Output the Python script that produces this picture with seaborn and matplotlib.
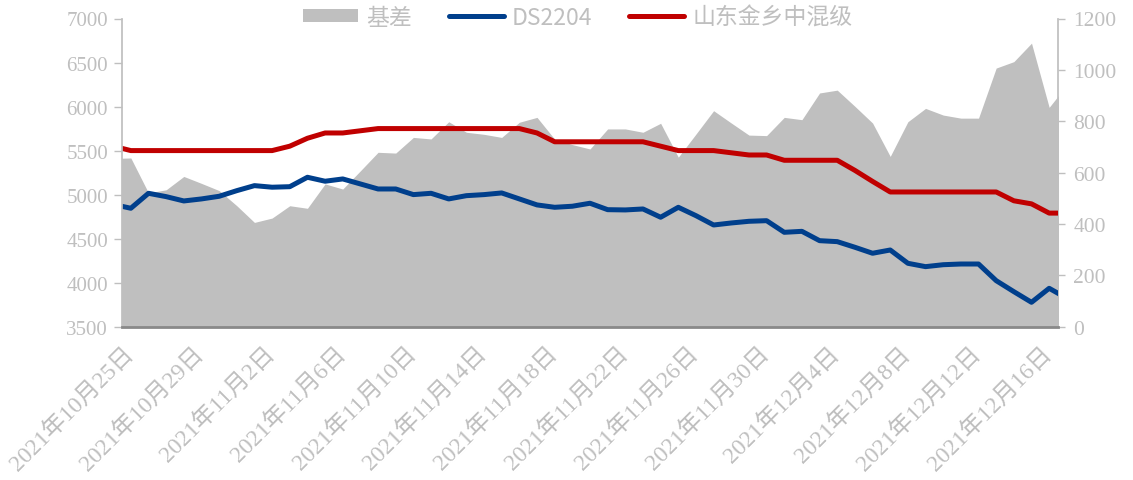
import pandas as pd
import matplotlib
matplotlib.use("Agg")
import matplotlib.pyplot as plt
from matplotlib.patches import Patch
from matplotlib.lines import Line2D
import seaborn as sns

# daily points, one day beyond each end (clipped by the axis like in the source chart)
dates = pd.date_range("2021-10-24", "2021-12-17", freq="D")

ds2204 = [4889, 4845, 5015, 4977, 4928, 4951, 4981, 5045, 5102, 5084,
          5090, 5197, 5152, 5178, 5121, 5064, 5064, 5000, 5015, 4951,
          4988, 5000, 5019, 4951, 4883, 4856, 4868, 4902, 4829, 4826,
          4837, 4743, 4856, 4761, 4655, 4678, 4697, 4704, 4572, 4583,
          4477, 4466, 4402, 4334, 4371, 4220, 4182, 4204, 4212, 4212,
          4023, 3898, 3777, 3936, 3823]

spot = [5550, 5500, 5500, 5500, 5500, 5500, 5500, 5500, 5500, 5500,
        5550, 5640, 5700, 5700, 5725, 5750, 5750, 5750, 5750, 5750,
        5750, 5750, 5750, 5750, 5700, 5600, 5600, 5600, 5600, 5600,
        5600, 5550, 5500, 5500, 5500, 5475, 5450, 5450, 5390, 5390,
        5390, 5390, 5275, 5150, 5030, 5030, 5030, 5030, 5030, 5030,
        5030, 4930, 4895, 4790, 4790]

basis = [655, 657, 521, 533, 585, 558, 530, 471, 406, 423,
         471, 461, 556, 536, 607, 679, 676, 737, 731, 798,
         757, 749, 737, 796, 815, 730, 709, 692, 770, 770,
         757, 792, 660, 750, 841, 793, 746, 744, 815, 806,
         910, 921, 858, 793, 663, 798, 850, 824, 812, 812,
         1007, 1032, 1104, 854, 941]

tick_dates = pd.date_range("2021-10-25", "2021-12-16", freq="4D")
tick_labels = [f"{d.year}年{d.month}月{d.day}日" for d in tick_dates]

GREY_TXT = "#bfbfbf"
AREA = "#bfbfbf"
BLUE = "#003f8c"
RED = "#c00000"

sns.set_theme(style="white")
plt.rcParams['font.family'] = ['Liberation Serif', 'Noto Sans CJK SC']

df = pd.DataFrame({'date': dates, 'DS2204': ds2204, 'spot': spot, 'basis': basis})

fig, ax = plt.subplots(figsize=(11.33, 4.81), dpi=100)
fig.subplots_adjust(left=122 / 1133, right=1058 / 1133,
                    top=1 - 19.5 / 481, bottom=1 - 327.7 / 481)
ax2 = ax.twinx()

# basis area on the secondary axis, drawn behind the lines
ax2.fill_between(df['date'], df['basis'], 0, color=AREA, linewidth=0)

sns.lineplot(data=df, x='date', y='DS2204', ax=ax, color=BLUE, linewidth=3.6,
             solid_joinstyle='round')
sns.lineplot(data=df, x='date', y='spot', ax=ax, color=RED, linewidth=3.6,
             solid_joinstyle='round')

ax.set_zorder(ax2.get_zorder() + 1)
ax.patch.set_visible(False)

ax.set_ylim(3500, 7000)
ax.set_yticks(range(3500, 7001, 500))
ax2.set_ylim(0, 1200)
ax2.set_yticks(range(0, 1201, 200))
ax.set_xlim(pd.Timestamp("2021-10-24 12:00"), pd.Timestamp("2021-12-16 12:00"))
ax.set_xlabel('')
ax.set_ylabel('')

ax.set_xticks(tick_dates)
ax.set_xticklabels(tick_labels)
for lbl in ax.get_xticklabels():
    lbl.set_rotation(45)
    lbl.set_ha('right')
    lbl.set_va('center')
    lbl.set_rotation_mode('anchor')

ax.tick_params(axis='x', length=0, pad=17, labelsize=17, labelcolor=GREY_TXT)
ax.tick_params(axis='y', left=True, direction='out', length=6, width=1,
               color=GREY_TXT, labelsize=15, labelcolor=GREY_TXT, pad=4)
ax2.tick_params(axis='y', right=True, direction='out', length=5, width=1,
                color=GREY_TXT, labelsize=15.5, labelcolor=GREY_TXT, pad=6)

for s in ['top', 'right']:
    ax.spines[s].set_visible(False)
ax.spines['left'].set_color(GREY_TXT)
ax.spines['bottom'].set_color('#898989')
ax.spines['bottom'].set_linewidth(2)
for s in ['top', 'left', 'bottom']:
    ax2.spines[s].set_visible(False)
ax2.spines['right'].set_color(GREY_TXT)

handles = [Patch(facecolor=AREA, edgecolor='none'),
           Line2D([], [], color=BLUE, linewidth=3.6, solid_capstyle='round'),
           Line2D([], [], color=RED, linewidth=3.6, solid_capstyle='round')]
labels = ['基差', 'DS2204', '山东金乡中混级']
fig.legend(handles, labels, loc='center', bbox_to_anchor=(0.51, 0.962), ncol=3,
           frameon=False, prop={'family': ['Noto Sans CJK SC'], 'size': 16.5},
           labelcolor=GREY_TXT, handlelength=2.4, handleheight=0.5,
           columnspacing=1.6, handletextpad=0.35)

fig.savefig("out.png", dpi=100)
